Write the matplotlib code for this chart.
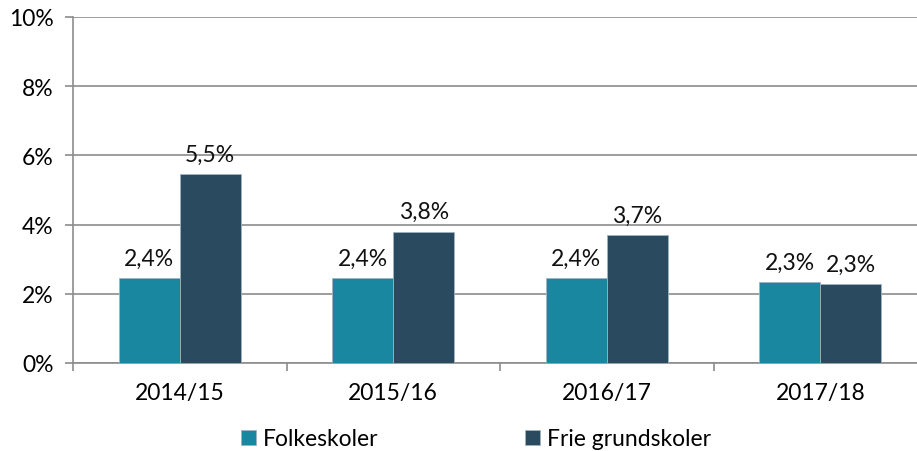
import matplotlib
matplotlib.use("Agg")
import matplotlib.pyplot as plt
import numpy as np

categories = ["2014/15", "2015/16", "2016/17", "2017/18"]
folkeskoler = [2.45, 2.45, 2.45, 2.33]
frie = [5.45, 3.80, 3.70, 2.27]
folke_labels = ["2,4%", "2,4%", "2,4%", "2,3%"]
frie_labels = ["5,5%", "3,8%", "3,7%", "2,3%"]
yticks = [0, 2, 4, 6, 8, 10]
ytick_labels = ["0%", "2%", "4%", "6%", "8%", "10%"]
series_names = ["Folkeskoler", "Frie grundskoler"]

c1 = "#1a87a1"
c2 = "#2a4a60"
grid_c = "#8c8c8c"
fs = 16.5

plt.rcParams['font.family'] = ['Lato', 'DejaVu Sans']

fig = plt.figure(figsize=(9.17, 4.52), dpi=100)
ax = fig.add_axes([73/917, 1-364/452, (927-73)/917, 346/452])

x = np.arange(len(categories))
w = 0.286
b1 = ax.bar(x - w/2, folkeskoler, w, color=c1, edgecolor="#9fb4c0", linewidth=0.6, label=series_names[0], zorder=3)
b2 = ax.bar(x + w/2, frie, w, color=c2, edgecolor="#9fb4c0", linewidth=0.6, label=series_names[1], zorder=3)

for rect, lab in zip(b1, folke_labels):
    ax.text(rect.get_x() + rect.get_width()/2, rect.get_height() + 0.27, lab,
            ha="center", va="bottom", fontsize=fs, color="#111111")
for rect, lab in zip(b2, frie_labels):
    ax.text(rect.get_x() + rect.get_width()/2, rect.get_height() + 0.27, lab,
            ha="center", va="bottom", fontsize=fs, color="#111111")

ax.set_xlim(-0.5, len(categories) - 0.5)
ax.set_ylim(0, 10)
ax.set_yticks(yticks)
ax.set_yticklabels(ytick_labels, fontsize=fs)
ax.yaxis.grid(True, color=grid_c, linewidth=1.2, zorder=0)
ax.set_axisbelow(True)

ax.set_xticks(x)
ax.set_xticklabels(categories, fontsize=fs)
ax.set_xticks(np.arange(-0.5, len(categories)), minor=True)
ax.tick_params(axis="x", which="major", length=0, pad=14)
ax.tick_params(axis="x", which="minor", length=6, color=grid_c, width=1.2)
ax.tick_params(axis="y", length=6, color=grid_c, width=1.2, pad=8)

for s in ["top", "right"]:
    ax.spines[s].set_visible(False)
ax.spines["left"].set_color(grid_c)
ax.spines["left"].set_linewidth(1.2)
ax.spines["bottom"].set_color(grid_c)
ax.spines["bottom"].set_linewidth(1.2)

fig.legend(handles=[b1, b2], labels=series_names, loc="center", bbox_to_anchor=(476/917, 1-440/452),
           ncol=2, frameon=False, fontsize=fs, handlelength=0.65, handleheight=0.65,
           handletextpad=0.3, columnspacing=6.4)

fig.savefig("out.png", dpi=100)
